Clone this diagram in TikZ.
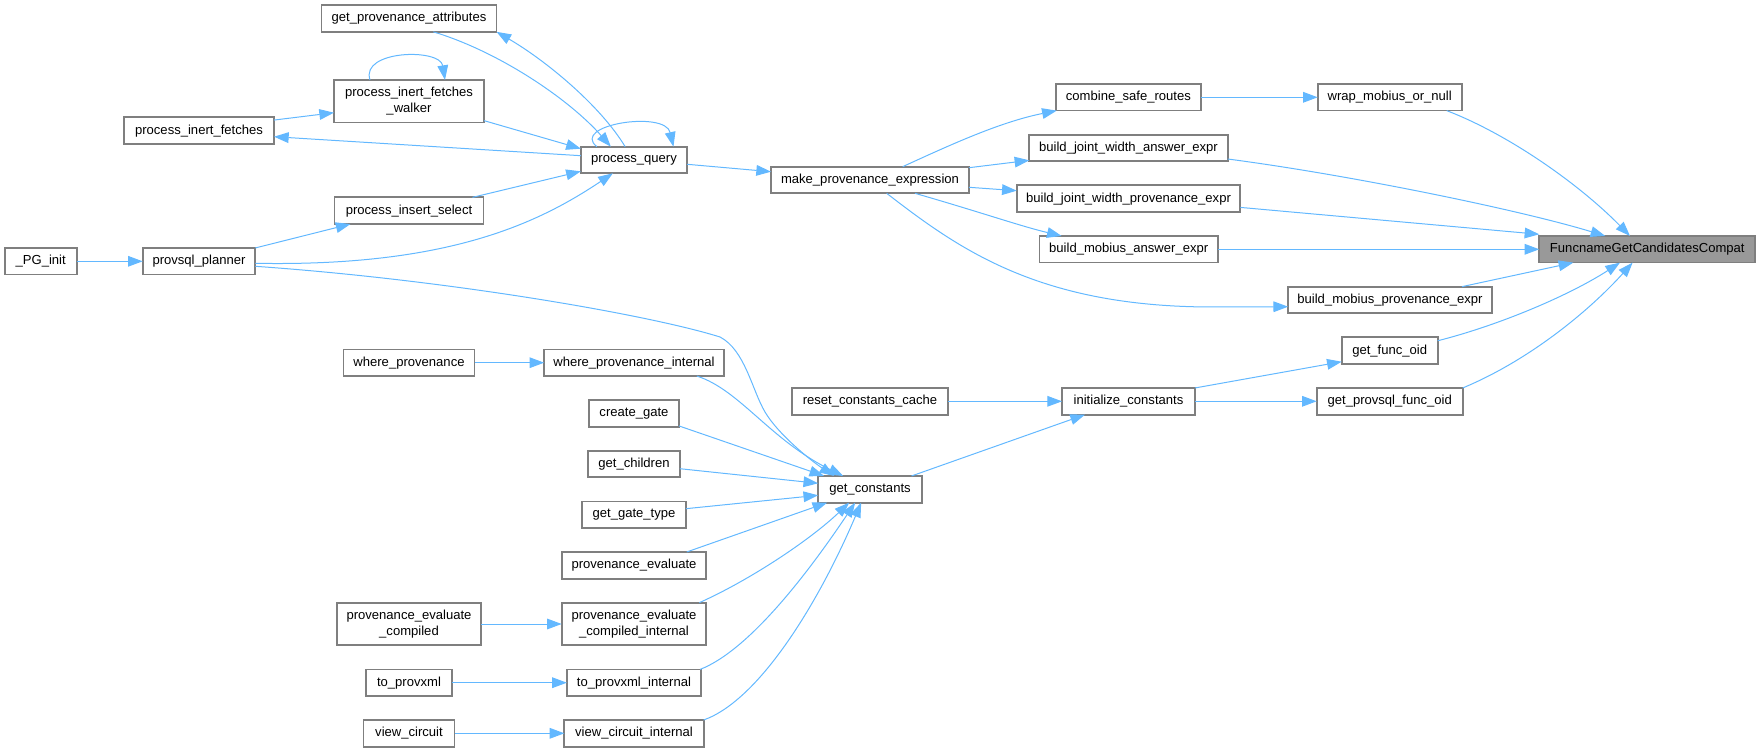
\documentclass[tikz,border=0pt]{standalone}
\usepackage{fontspec}
\setmainfont{Liberation Sans}
\usetikzlibrary{arrows.meta,calc}
\definecolor{edgeblue}{HTML}{63B8FF}
\definecolor{nodeborder}{HTML}{7F7F7F}
\definecolor{rootfill}{HTML}{999999}
\begin{document}
\begin{tikzpicture}[x=0.75pt,y=-0.75pt,
  fn/.style={draw=nodeborder, fill=white, line width=1.3pt, inner sep=0pt, outer sep=0pt,
    minimum height=20pt, font=\fontsize{9.8}{12}\selectfont, align=center},
  fntwo/.style={fn, minimum height=32pt},
  rootfn/.style={fn, fill=rootfill},
  call/.style={draw=edgeblue, line width=0.75pt, -{Triangle[length=11pt,width=8pt]}}]
\useasboundingbox (0,0) rectangle (1760,752);
% nodes
\node[fn, minimum width=131.25pt] (gpa) at (409,18.5) {get\_provenance\_attributes};
\node[fntwo, minimum width=112.5pt] (pifw) at (409,101.3) {process\_inert\_fetches\\\_walker};
\node[fn, minimum width=112.5pt] (pif) at (199,130.7) {process\_inert\_fetches};
\node[fn, minimum width=111.75pt] (pis) at (409,210.7) {process\_insert\_select};
\node[fn, minimum width=54pt] (pginit) at (40.7,261.3) {\_PG\_init};
\node[fn, minimum width=84.5pt] (planner) at (199,261.3) {provsql\_planner};
\node[fn, minimum width=98.25pt] (wp) at (409,362.7) {where\_provenance};
\node[fn, minimum width=79.75pt] (pq) at (634,160) {process\_query};
\node[fn, minimum width=148.5pt] (mpe) at (870,180) {make\_provenance\_expression};
\node[fn, minimum width=134.75pt] (wpi) at (634,362.7) {where\_provenance\_internal};
\node[fn, minimum width=109pt] (csr) at (1128.4,97.3) {combine\_safe\_routes};
\node[fn, minimum width=148.8pt] (bjwa) at (1128.5,148) {build\_joint\_width\_answer\_expr};
\node[fn, minimum width=167.7pt] (bjwp) at (1128.5,198.7) {build\_joint\_width\_provenance\_expr};
\node[fn, minimum width=134pt] (bma) at (1128.7,249.3) {build\_mobius\_answer\_expr};
\node[fn, minimum width=152.8pt] (bmp) at (1390,300) {build\_mobius\_provenance\_expr};
\node[fn, minimum width=108pt] (wmon) at (1389.7,97.3) {wrap\_mobius\_or\_null};
\node[fn, minimum width=72pt] (gfo) at (1389.7,350.7) {get\_func\_oid};
\node[rootfn, minimum width=162pt] (root) at (1647.3,249.3) {FuncnameGetCandidatesCompat};
\node[fn, minimum width=99.75pt] (ic) at (1128.5,401.3) {initialize\_constants};
\node[fn, minimum width=109.5pt] (gpfo) at (1389.7,401.3) {get\_provsql\_func\_oid};
\node[fn, minimum width=117.5pt] (rcc) at (870,401.3) {reset\_constants\_cache};
\node[fn, minimum width=77.75pt] (gc) at (870,489.3) {get\_constants};
\node[fn, minimum width=67.5pt] (cg) at (634,413.3) {create\_gate};
\node[fn, minimum width=68.75pt] (gch) at (634,464) {get\_children};
\node[fn, minimum width=77.75pt] (ggt) at (634,514.7) {get\_gate\_type};
\node[fn, minimum width=108.5pt] (pe) at (634,565.3) {provenance\_evaluate};
\node[fntwo, minimum width=108.5pt] (peci) at (634,624) {provenance\_evaluate\\\_compiled\_internal};
\node[fn, minimum width=100.75pt] (tpi) at (634,682.7) {to\_provxml\_internal};
\node[fn, minimum width=104.5pt] (vci) at (634,733.3) {view\_circuit\_internal};
\node[fntwo, minimum width=108.5pt] (pec) at (409,624) {provenance\_evaluate\\\_compiled};
\node[fn, minimum width=64.5pt] (tp) at (409,682.7) {to\_provxml};
\node[fn, minimum width=68.25pt] (vc) at (409,733.3) {view\_circuit};
% edges
\draw[call] (pginit.east) -- (planner.west);
\draw[call] (planner.north east) -- ($(pis.south west)+(16,0)$);
\draw[call] ($(planner.east)+(0,2)$) .. controls (450,267) and (540,222) .. ($(pq.south west)+(32,0)$);
\draw[call] ($(planner.east)+(0,5)$) .. controls (450,280) and (650,315) .. (720,337)
  .. controls (745,350) and (752,390) .. (765,412)
  .. controls (778,434) and (810,460) .. ($(gc.north west)+(16,0)$);
\draw[call] ($(pis.north east)+(-11,0)$) -- ($(pq.south west)+(0,-2)$);
\draw[call] ($(pifw.south east)+(0,-2)$) -- ($(pq.north west)+(0,2)$);
\draw[call] ($(pq.west)+(0,-4.3)$) -- ($(pif.east)+(0,6)$);
\draw[call] ($(pif.north east)+(0,2.7)$) -- ($(pifw.west)+(0,11.4)$);
\draw[call] ($(pifw.north west)+(36,0)$) .. controls (360,50) and (440,48) .. ($(pifw.north west)+(111,0)$);
\draw[call] ($(gpa.south)+(24.3,0)$) .. controls (500,52) and (570,100) .. ($(pq.north west)+(30,0)$);
\draw[call] ($(pq.north west)+(44.3,0)$) .. controls (600,105) and (545,60) .. (gpa.south east);
\draw[call] ($(pq.north west)+(16,0)$) .. controls (570,125) and (665,110) .. ($(pq.north east)+(-13.7,0)$);
\draw[call] ($(pq.east)+(0,4.3)$) -- ($(mpe.west)+(0,-8.3)$);
\draw[call] ($(mpe.north)+(32.7,0)$) .. controls (950,145) and (1000,122) .. ($(csr.south west)+(1,0)$);
\draw[call] ($(mpe.east)+(0,-12.3)$) -- ($(bjwa.south west)+(0,-1)$);
\draw[call] ($(mpe.east)+(0,7.3)$) -- ($(bjwp.west)+(0,-8)$);
\draw[call] ($(mpe.south)+(45,0)$) .. controls (980,212) and (1020,226) .. ($(bma.north west)+(22.3,0)$);
\draw[call] ($(mpe.south)+(16.7,0)$) .. controls (960,250) and (1040,307) .. (1213,307) -- ($(bmp.west)+(0,6.7)$);
\draw[call] (csr.east) -- (wmon.west);
\draw[call] ($(wmon.south east)+(-15,0)$) .. controls (1510,135) and (1580,185) .. ($(root.north west)+(90.7,0)$);
\draw[call] ($(bjwa.east)+(0,11)$) .. controls (1350,175) and (1520,210) .. ($(root.north west)+(66,0)$);
\draw[call] ($(bjwp.east)+(0,8.7)$) -- ($(root.west)+(0,-15)$);
\draw[call] (bma.east) -- (root.west);
\draw[call] ($(bmp.north east)+(-30,0)$) -- ($(root.south west)+(34,0)$);
\draw[call] ($(gfo.north east)+(0,3.4)$) .. controls (1500,325) and (1570,295) .. ($(root.south west)+(80.7,0)$);
\draw[call] (gpfo.north east) .. controls (1530,360) and (1590,310) .. ($(root.south west)+(93.3,0)$);
\draw[call] (ic.north east) -- ($(gfo.west)+(0,11)$);
\draw[call] (ic.east) -- (gpfo.west);
\draw[call] (rcc.east) -- (ic.west);
\draw[call] ($(gc.north east)+(-10.3,0)$) -- ($(ic.south west)+(23,0)$);
\draw[call] (wp.east) -- (wpi.west);
\draw[call] ($(wpi.south east)+(-27,0)$) .. controls (740,390) and (770,440) .. ($(gc.north west)+(25,0)$);
\draw[call] ($(cg.south east)+(0,-0.7)$) -- ($(gc.north west)+(6,0)$);
\draw[call] ($(gch.east)+(0,4.7)$) -- ($(gc.west)+(0,-6)$);
\draw[call] ($(ggt.east)+(0,-6)$) -- ($(gc.west)+(0,6)$);
\draw[call] ($(pe.north east)+(-19.6,0)$) -- ($(gc.south west)+(9,0)$);
\draw[call] ($(peci.north east)+(-7,0)$) .. controls (750,580) and (810,540) .. ($(gc.south west)+(31,0)$);
\draw[call] ($(tpi.north east)+(-1,0)$) .. controls (750,650) and (810,570) .. ($(gc.south west)+(37,0)$);
\draw[call] (vci.north east) .. controls (760,700) and (820,600) .. ($(gc.south west)+(43,0)$);
\draw[call] (pec.east) -- (peci.west);
\draw[call] (tp.east) -- (tpi.west);
\draw[call] (vc.east) -- (vci.west);
\end{tikzpicture}
\end{document}
